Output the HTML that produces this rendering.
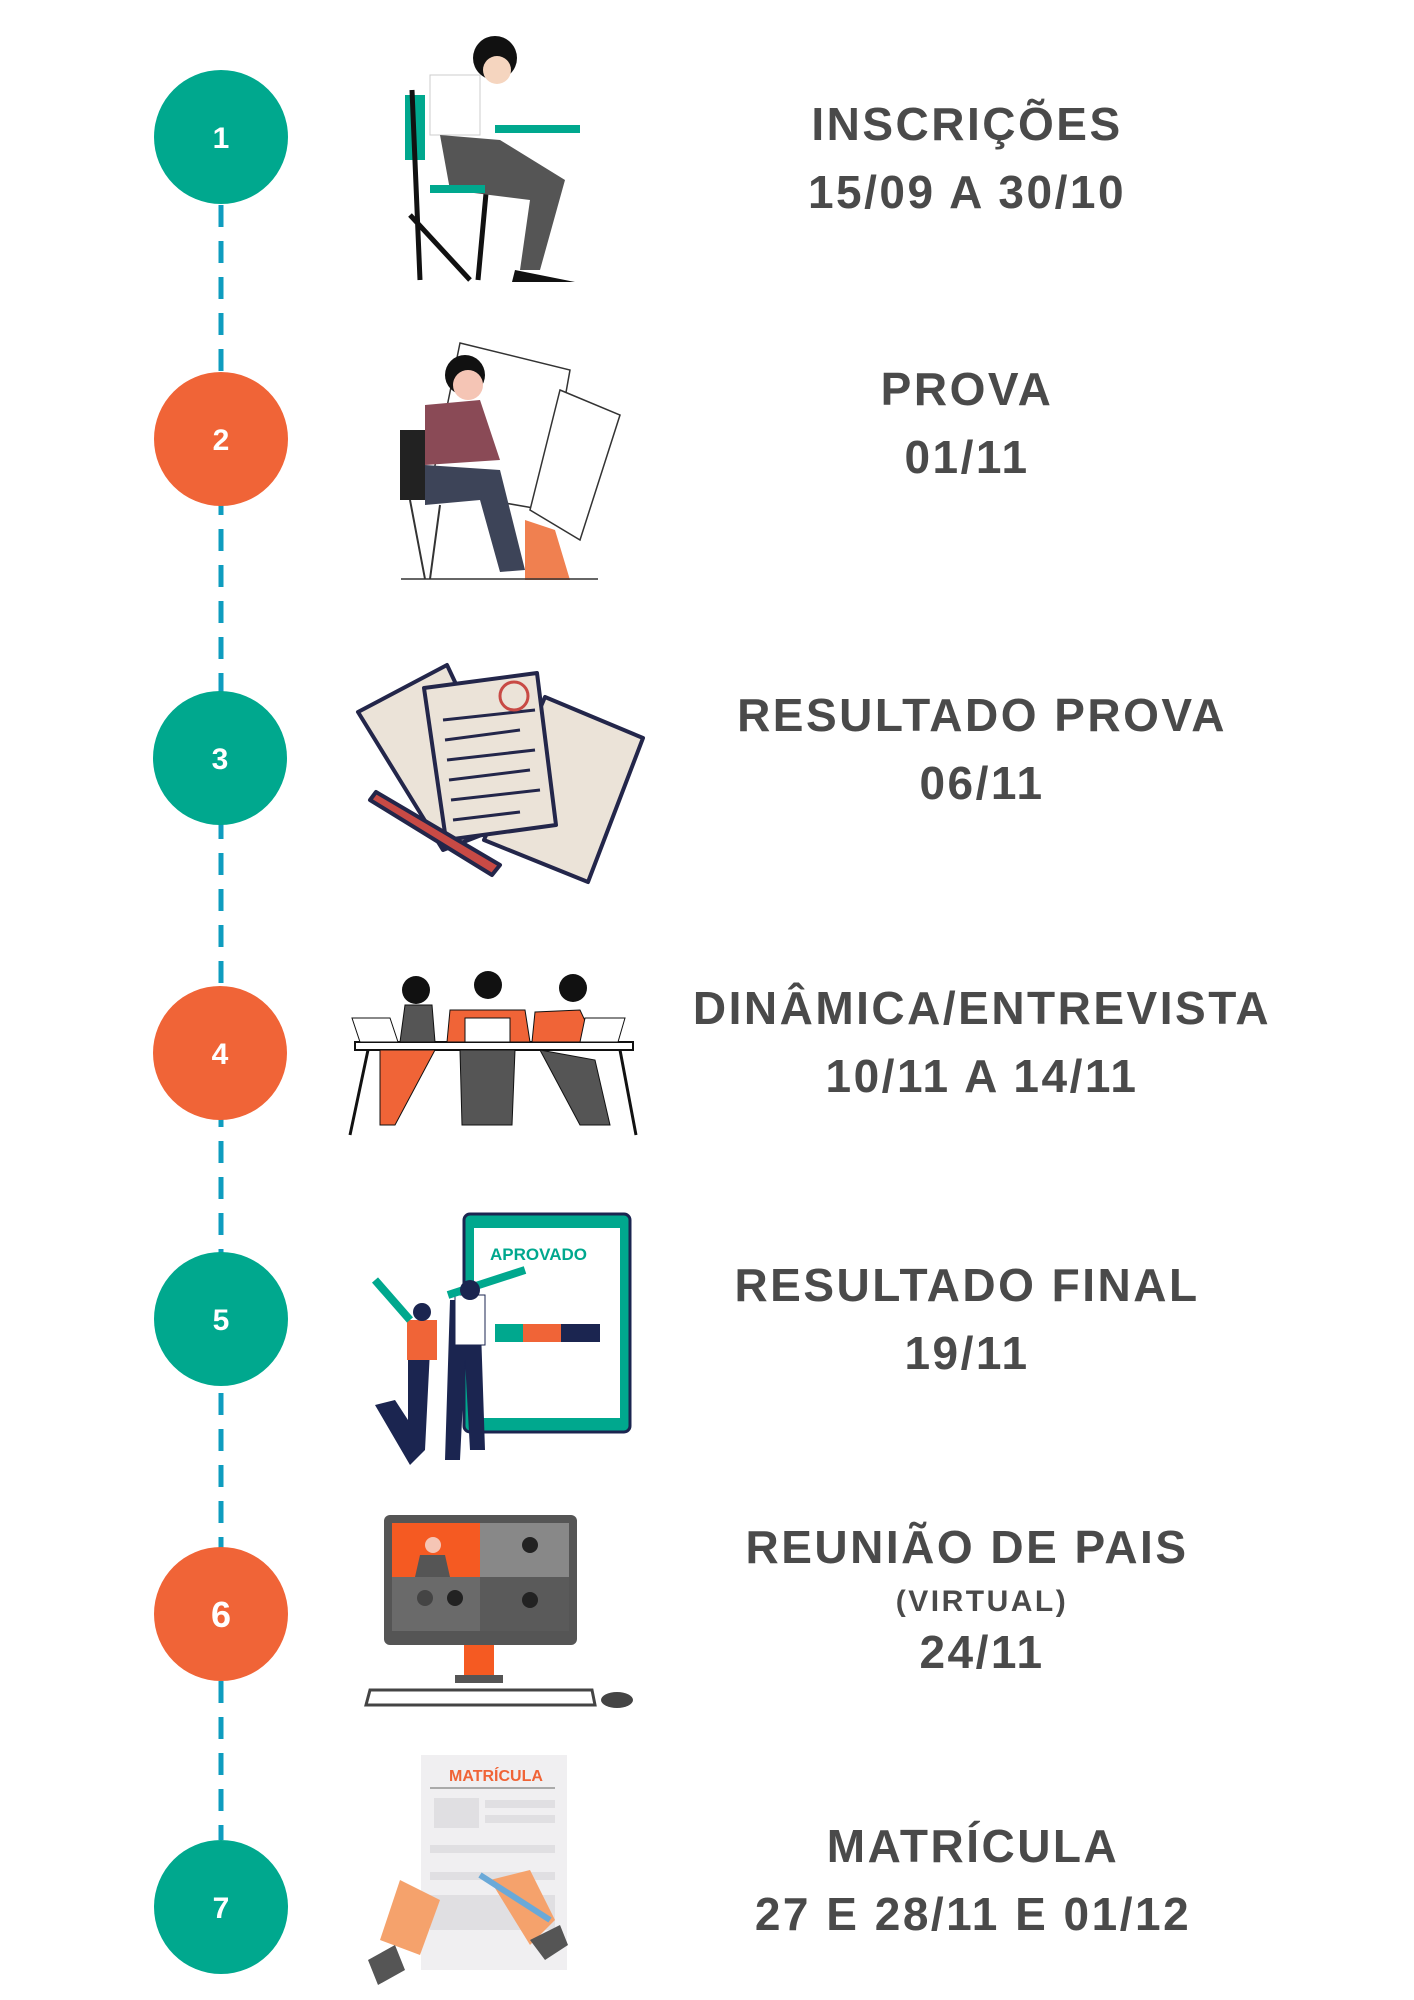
<!DOCTYPE html>
<html><head><meta charset="utf-8"><style>
html,body{margin:0;padding:0;background:#fff}
body{width:1414px;height:2000px;position:relative;overflow:hidden;font-family:"Liberation Sans",sans-serif}
.t{position:absolute;transform:translateX(-50%);white-space:nowrap;color:#4a4a4a;font-weight:bold;font-size:46px;line-height:1;text-align:center;letter-spacing:2.5px}
</style></head><body>
<svg width="1414" height="2000" style="position:absolute;left:0;top:0" xmlns="http://www.w3.org/2000/svg">
<line x1="221" y1="205" x2="221" y2="1840" stroke="#0e9cbf" stroke-width="5" stroke-dasharray="22,14"/>
<g font-family="Liberation Sans" font-weight="bold" fill="#fff" text-anchor="middle" font-size="30">
<circle cx="221" cy="137" r="67" fill="#00a88e"/><text x="221" y="148">1</text>
<circle cx="221" cy="439" r="67" fill="#f06437"/><text x="221" y="450">2</text>
<circle cx="220" cy="758" r="67" fill="#00a88e"/><text x="220" y="769">3</text>
<circle cx="220" cy="1053" r="67" fill="#f06437"/><text x="220" y="1064">4</text>
<circle cx="221" cy="1319" r="67" fill="#00a88e"/><text x="221" y="1330">5</text>
<circle cx="221" cy="1614" r="67" fill="#f06437"/><text x="221" y="1627" font-size="36">6</text>
<circle cx="221" cy="1907" r="67" fill="#00a88e"/><text x="221" y="1918">7</text>
</g>
<g>
<rect x="405" y="95" width="20" height="65" fill="#00a88e"/>
<path d="M412 90 L420 280 M490 150 L478 280 M410 215 L470 280" stroke="#111" stroke-width="5" fill="none"/>
<rect x="430" y="75" width="50" height="60" fill="#fff" stroke="#ccc"/>
<circle cx="495" cy="58" r="22" fill="#111"/>
<circle cx="497" cy="70" r="14" fill="#f5d5bf"/>
<rect x="495" y="125" width="85" height="8" fill="#00a88e"/>
<path d="M440 135 L500 140 L565 180 L540 270 L520 270 L530 200 L450 190 Z" fill="#555"/>
<rect x="430" y="185" width="55" height="8" fill="#00a88e"/>
<path d="M515 270 L575 282 L512 282 Z" fill="#111"/>
</g>
<g>
<path d="M460 343 L570 370 L545 510 L430 490 Z" fill="#fff" stroke="#333" stroke-width="1.5"/>
<path d="M560 390 L620 415 L580 540 L530 510 Z" fill="#fff" stroke="#333" stroke-width="1.5"/>
<circle cx="465" cy="375" r="20" fill="#111"/>
<circle cx="468" cy="385" r="15" fill="#f5c5b5"/>
<path d="M425 405 L480 400 L500 460 L425 465 Z" fill="#8a4a56"/>
<rect x="400" y="430" width="25" height="70" fill="#222"/>
<path d="M425 465 L500 470 L525 570 L500 572 L480 500 L425 505 Z" fill="#3d4458"/>
<path d="M525 520 L555 530 L570 580 L525 580 Z" fill="#f08050"/>
<line x1="401" y1="579" x2="598" y2="579" stroke="#333" stroke-width="1.5"/>
<path d="M410 500 L425 579 M440 505 L430 579" stroke="#333" stroke-width="2"/>
</g>
<g stroke="#23264a" stroke-width="4" fill="#ebe3d8" stroke-linejoin="round">
<path d="M358 712 L447 665 L520 820 L443 850 Z"/>
<path d="M545 697 L643 738 L588 882 L484 840 Z"/>
<path d="M424 688 L537 673 L556 825 L446 840 Z"/>
<path d="M376 792 L500 865 L492 875 L370 800 Z" fill="#c84a45"/>
</g>
<g stroke="#23264a" stroke-width="3">
<line x1="443" y1="720" x2="535" y2="710"/><line x1="445" y1="740" x2="520" y2="730"/><line x1="447" y1="760" x2="535" y2="750"/><line x1="449" y1="780" x2="530" y2="770"/><line x1="451" y1="800" x2="540" y2="790"/><line x1="453" y1="820" x2="520" y2="812"/>
</g>
<circle cx="514" cy="696" r="14" fill="none" stroke="#c84a45" stroke-width="3"/>
<g>
<rect x="355" y="1042" width="278" height="8" fill="#fff" stroke="#111" stroke-width="2"/>
<path d="M368 1050 L350 1135 M620 1050 L636 1135" stroke="#111" stroke-width="3"/>
<circle cx="416" cy="990" r="14" fill="#111"/><circle cx="488" cy="985" r="14" fill="#111"/><circle cx="573" cy="988" r="14" fill="#111"/>
<path d="M405 1005 L432 1005 L435 1042 L400 1042 Z" fill="#555" stroke="#111"/>
<path d="M450 1010 L525 1010 L530 1042 L447 1042 Z" fill="#f06437" stroke="#111"/>
<path d="M535 1012 L580 1010 L595 1042 L532 1042 Z" fill="#f06437" stroke="#111"/>
<path d="M380 1050 L435 1050 L395 1125 L380 1125 Z" fill="#f06437" stroke="#111"/>
<path d="M460 1050 L515 1050 L512 1125 L462 1125 Z" fill="#555" stroke="#111"/>
<path d="M540 1050 L595 1060 L610 1125 L580 1125 Z" fill="#555" stroke="#111"/>
<rect x="465" y="1018" width="45" height="24" fill="#fff" stroke="#111"/>
<path d="M352 1018 L390 1018 L398 1042 L360 1042 Z" fill="#fff" stroke="#111"/>
<path d="M585 1018 L625 1018 L618 1042 L580 1042 Z" fill="#fff" stroke="#111"/>
</g>
<g>
<rect x="464" y="1214" width="166" height="218" rx="6" fill="#00a88e" stroke="#1b2550" stroke-width="3"/>
<rect x="474" y="1228" width="146" height="190" fill="#fff"/>
<text x="490" y="1260" font-family="Liberation Sans" font-weight="bold" font-size="17" fill="#00a88e">APROVADO</text>
<rect x="495" y="1324" width="28" height="18" fill="#00a88e"/><rect x="523" y="1324" width="38" height="18" fill="#f06437"/><rect x="561" y="1324" width="39" height="18" fill="#1b2550"/>
<path d="M408 1350 L430 1350 L425 1450 L410 1465 L375 1405 L395 1400 L408 1420 Z" fill="#1b2550"/>
<path d="M450 1300 L480 1300 L485 1450 L470 1450 L465 1360 L460 1460 L445 1460 Z" fill="#1b2550"/>
<rect x="407" y="1320" width="30" height="40" fill="#f06437"/>
<rect x="455" y="1295" width="30" height="50" fill="#fff" stroke="#1b2550"/>
<path d="M375 1280 L410 1320 M448 1295 L525 1270" stroke="#00a88e" stroke-width="8"/>
<circle cx="422" cy="1312" r="9" fill="#1b2550"/><circle cx="470" cy="1290" r="10" fill="#1b2550"/>
</g>
<g>
<rect x="384" y="1515" width="193" height="130" rx="6" fill="#555"/>
<rect x="392" y="1523" width="177" height="108" fill="#777"/>
<rect x="392" y="1523" width="88" height="54" fill="#f55a22"/>
<rect x="480" y="1523" width="89" height="54" fill="#888"/>
<rect x="392" y="1577" width="88" height="54" fill="#6a6a6a"/>
<rect x="480" y="1577" width="89" height="54" fill="#5a5a5a"/>
<circle cx="433" cy="1545" r="8" fill="#f5c5b5"/><path d="M415 1577 L450 1577 L445 1555 L420 1555Z" fill="#555"/>
<circle cx="530" cy="1545" r="8" fill="#222"/><circle cx="425" cy="1598" r="8" fill="#444"/><circle cx="455" cy="1598" r="8" fill="#222"/><circle cx="530" cy="1600" r="8" fill="#222"/>
<rect x="464" y="1645" width="30" height="30" fill="#f55a22"/>
<rect x="455" y="1675" width="48" height="8" fill="#555"/>
<path d="M370 1690 L592 1690 L595 1705 L366 1705 Z" fill="#fff" stroke="#444" stroke-width="3"/>
<ellipse cx="617" cy="1700" rx="16" ry="8" fill="#444"/>
</g>
<g>
<rect x="421" y="1755" width="146" height="215" fill="#f0eff1"/>
<text x="449" y="1781" font-family="Liberation Sans" font-weight="bold" font-size="16" fill="#f06437">MATRÍCULA</text>
<line x1="430" y1="1788" x2="555" y2="1788" stroke="#aaa" stroke-width="2"/>
<g fill="#e0dfe2"><rect x="434" y="1798" width="45" height="30"/><rect x="485" y="1800" width="70" height="8"/><rect x="485" y="1815" width="70" height="8"/><rect x="430" y="1845" width="125" height="8"/><rect x="430" y="1872" width="125" height="8"/><rect x="430" y="1895" width="125" height="35"/></g>
<path d="M380 1940 L400 1880 L440 1900 L420 1955 Z" fill="#f5a26c"/>
<path d="M490 1880 L530 1870 L555 1920 L530 1945 Z" fill="#f5a26c"/>
<path d="M368 1960 L395 1945 L405 1970 L378 1985Z" fill="#555"/>
<path d="M530 1940 L560 1925 L568 1945 L545 1960Z" fill="#555"/>
<line x1="480" y1="1875" x2="550" y2="1920" stroke="#6aa9d8" stroke-width="6"/>
</g>
</svg>
<div class="t" style="left:967px;top:101px">INSCRIÇÕES</div>
<div class="t" style="left:967px;top:169px">15/09 A 30/10</div>
<div class="t" style="left:967px;top:366px">PROVA</div>
<div class="t" style="left:967px;top:434px">01/11</div>
<div class="t" style="left:982px;top:692px">RESULTADO PROVA</div>
<div class="t" style="left:982px;top:760px">06/11</div>
<div class="t" style="left:982px;top:985px">DINÂMICA/ENTREVISTA</div>
<div class="t" style="left:982px;top:1053px">10/11 A 14/11</div>
<div class="t" style="left:967px;top:1262px">RESULTADO FINAL</div>
<div class="t" style="left:967px;top:1330px">19/11</div>
<div class="t" style="left:967px;top:1524px">REUNIÃO DE PAIS</div>
<div class="t" style="left:982px;top:1587px;font-size:30px">(VIRTUAL)</div>
<div class="t" style="left:982px;top:1629px">24/11</div>
<div class="t" style="left:973px;top:1823px">MATRÍCULA</div>
<div class="t" style="left:973px;top:1891px">27 E 28/11 E 01/12</div>
</body></html>
